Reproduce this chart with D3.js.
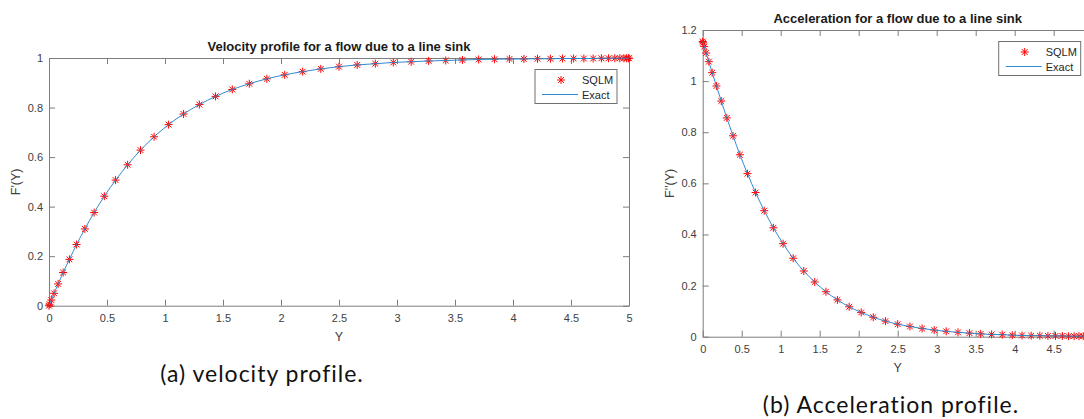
<!DOCTYPE html>
<html>
<head>
<meta charset="utf-8">
<script src="https://cdn.jsdelivr.net/npm/d3@7"></script>
<style>
  body { margin: 0; background: #fff; }
  svg { display: block; }
  text { font-family: "Liberation Sans", Arial, sans-serif; }
  .caption { font-family: Lato, "Open Sans", sans-serif; letter-spacing: 1px; }
</style>
</head>
<body>
<script>
"use strict";

// collocation points (Y)
const yNodes = [0, 0.005, 0.020, 0.044, 0.079, 0.122, 0.176, 0.238, 0.309, 0.389,
  0.477, 0.574, 0.678, 0.789, 0.906, 1.031, 1.160, 1.296, 1.436, 1.580,
  1.727, 1.878, 2.032, 2.187, 2.343, 2.5, 2.657, 2.813, 2.968, 3.122,
  3.273, 3.420, 3.564, 3.704, 3.840, 3.969, 4.094, 4.211, 4.322, 4.426,
  4.523, 4.611, 4.691, 4.762, 4.824, 4.878, 4.921, 4.956, 4.980, 4.995, 5];

// F'(Y)  velocity
const velocity = [0, 0.006, 0.023, 0.050, 0.088, 0.134, 0.187, 0.247, 0.310, 0.376,
  0.442, 0.507, 0.569, 0.628, 0.682, 0.731, 0.774, 0.812, 0.845, 0.873,
  0.896, 0.916, 0.932, 0.945, 0.956, 0.965, 0.972, 0.977, 0.982, 0.985,
  0.988, 0.990, 0.992, 0.994, 0.995, 0.996, 0.996, 0.997, 0.997, 0.998,
  0.998, 0.998, 0.998, 0.999, 0.999, 0.999, 0.999, 0.999, 0.999, 0.999, 0.999];

// F''(Y)  acceleration
const acceleration = [1.155, 1.150, 1.135, 1.110, 1.076, 1.033, 0.981, 0.922, 0.856, 0.786,
  0.712, 0.638, 0.564, 0.493, 0.426, 0.364, 0.307, 0.257, 0.214, 0.176,
  0.144, 0.117, 0.095, 0.076, 0.061, 0.049, 0.040, 0.032, 0.026, 0.021,
  0.017, 0.014, 0.011, 0.009, 0.008, 0.006, 0.005, 0.004, 0.004, 0.003,
  0.003, 0.003, 0.002, 0.002, 0.002, 0.002, 0.002, 0.002, 0.001, 0.001, 0.001];

const xTicks = [0, 0.5, 1, 1.5, 2, 2.5, 3, 3.5, 4, 4.5, 5];
const velTicks = [0, 0.2, 0.4, 0.6, 0.8, 1];
const accTicks = [0, 0.2, 0.4, 0.6, 0.8, 1, 1.2];
const legendLabels = ["SQLM", "Exact"];

(function(){
  const measurements = { width: 1084, height: 419 }
  const axisColor = "#7d7d7d"
  const labelColor = "#404040"
  const markerColor = "#ff0000"
  const lineColor = "#2f8bcf"

  const svgContainer = d3.select("body").append("svg")
      .attr("width", measurements.width)
      .attr("height", measurements.height)

  // both panels (the right one runs past the page edge, so its "5" is not shown)
  const panels = [
    { left: 49, right: 629, top: 58, bottom: 305.7, yMax: 1, yTicks: velTicks, values: velocity,
      title: "Velocity profile for a flow due to a line sink", ylabel: "F'(Y)", lastLabel: 5,
      caption: "(a) velocity profile.", capX: 262, capY: 382 },
    { left: 702.7, right: 1092.7, top: 30, bottom: 336.7, yMax: 1.2, yTicks: accTicks, values: acceleration,
      title: "Acceleration for a flow due to a line sink", ylabel: "F''(Y)", lastLabel: 4.5,
      caption: "(b) Acceleration profile.", capX: 891, capY: 413 }
  ]

  panels.forEach(drawPanel)

  // matlab '*' marker: a plus and an x
  function star(r) {
    const d = r * 0.72
    return "M" + (-r) + ",0H" + r + "M0," + (-r) + "V" + r +
      "M" + (-d) + "," + (-d) + "L" + d + "," + d +
      "M" + (-d) + "," + d + "L" + d + "," + (-d)
  }

  function drawPanel(p) {
    const scaleX = d3.scaleLinear().domain([0, 5]).range([p.left, p.right])
    const scaleY = d3.scaleLinear().domain([0, p.yMax]).range([p.bottom, p.top])
    const fmt = d => String(d)
    const xfmt = d => d <= p.lastLabel ? String(d) : ""

    const g = svgContainer.append("g")

    // box with inward ticks on all four sides
    g.append("g")
      .attr("transform", "translate(0," + p.bottom + ")")
      .call(d3.axisBottom(scaleX).tickValues(xTicks).tickFormat(xfmt)
        .tickSizeInner(-6).tickSizeOuter(0).tickPadding(9))
    g.append("g")
      .attr("transform", "translate(0," + p.top + ")")
      .call(d3.axisTop(scaleX).tickValues(xTicks).tickFormat("")
        .tickSizeInner(-6).tickSizeOuter(0))
    g.append("g")
      .attr("transform", "translate(" + p.left + ",0)")
      .call(d3.axisLeft(scaleY).tickValues(p.yTicks).tickFormat(fmt)
        .tickSizeInner(-6).tickSizeOuter(0).tickPadding(6))
    g.append("g")
      .attr("transform", "translate(" + p.right + ",0)")
      .call(d3.axisRight(scaleY).tickValues(p.yTicks).tickFormat("")
        .tickSizeInner(-6).tickSizeOuter(0))

    g.selectAll(".domain, .tick line").attr("stroke", axisColor).attr("stroke-width", 1)
    g.selectAll(".tick text")
      .attr("fill", labelColor)
      .style("font-family", "'Liberation Sans', Arial, sans-serif")
      .style("font-size", "11px")

    const pts = yNodes.map((y, i) => [y, p.values[i]])

    // SQLM markers
    g.selectAll(".pt")
      .data(pts)
      .enter()
      .append("path")
        .attr("class", "pt")
        .attr("transform", d => "translate(" + scaleX(d[0]) + "," + scaleY(d[1]) + ")")
        .attr("d", star(4))
        .attr("fill", "none")
        .attr("stroke", markerColor)
        .attr("stroke-width", 1)

    // exact solution
    const line = d3.line()
      .x(d => scaleX(d[0]))
      .y(d => scaleY(d[1]))
      .curve(d3.curveMonotoneX)
    g.append("path")
      .datum(pts)
      .attr("d", line)
      .attr("fill", "none")
      .attr("stroke", lineColor)
      .attr("stroke-width", 1)

    // title and axis labels
    g.append("text")
      .attr("x", (p.left + p.right) / 2)
      .attr("y", p.top - 7)
      .attr("text-anchor", "middle")
      .attr("font-weight", "bold")
      .attr("font-size", 13)
      .attr("fill", "#1a1a1a")
      .text(p.title)

    g.append("text")
      .attr("x", (p.left + p.right) / 2)
      .attr("y", p.bottom + 35)
      .attr("text-anchor", "middle")
      .attr("font-size", 12.5)
      .attr("fill", labelColor)
      .text("Y")

    g.append("text")
      .attr("transform", "translate(" + (p.left - 29) + "," + ((p.top + p.bottom) / 2) + ") rotate(-90)")
      .attr("text-anchor", "middle")
      .attr("font-size", 12.5)
      .attr("fill", labelColor)
      .text(p.ylabel)

    // legend
    const lx = p.right - 12 - 82
    const ly = p.top + 11.5
    const leg = g.append("g").attr("transform", "translate(" + lx + "," + ly + ")")
    leg.append("rect")
      .attr("width", 82).attr("height", 34)
      .attr("fill", "#fff")
      .attr("stroke", "#707070")
      .attr("stroke-width", 1)
    leg.append("path")
      .attr("transform", "translate(26,10.5)")
      .attr("d", star(4))
      .attr("fill", "none")
      .attr("stroke", markerColor)
    leg.append("line")
      .attr("x1", 7).attr("x2", 43)
      .attr("y1", 25).attr("y2", 25)
      .attr("stroke", lineColor)
    leg.selectAll(".lt")
      .data(legendLabels)
      .enter()
      .append("text")
        .attr("x", 47)
        .attr("y", (d, i) => 14.5 + i * 14.5)
        .attr("font-size", 11)
        .attr("fill", "#262626")
        .text(d => d)

    // sub-figure caption
    svgContainer.append("text")
      .attr("class", "caption")
      .attr("x", p.capX)
      .attr("y", p.capY)
      .attr("text-anchor", "middle")
      .attr("font-size", 23)
      .attr("fill", "#111")
      .text(p.caption)
  }
})()
</script>
</body>
</html>
